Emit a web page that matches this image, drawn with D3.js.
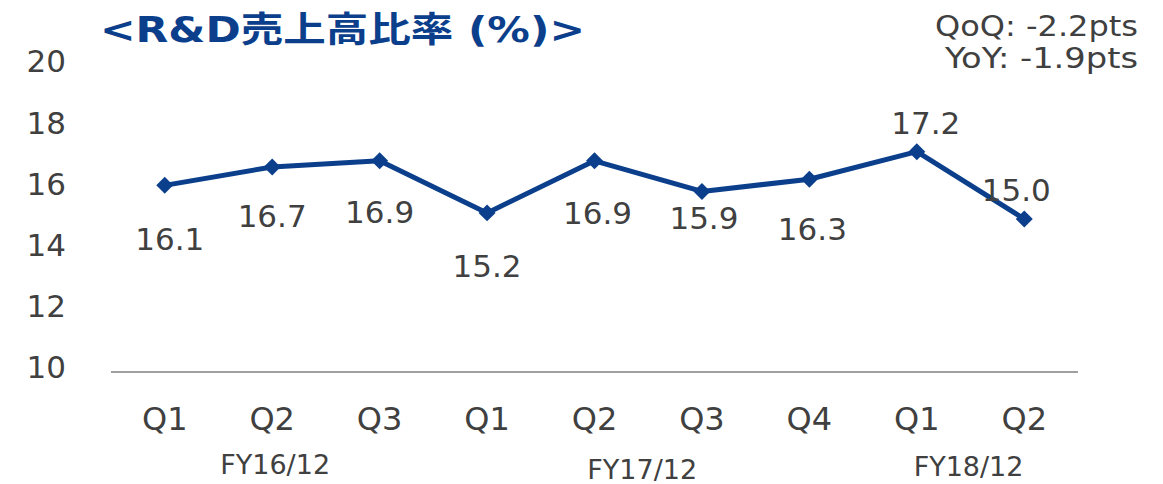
<!DOCTYPE html>
<html lang="ja">
<head>
    <meta charset="UTF-8">
    <title>R&D売上高比率</title>
    <script src="https://cdn.jsdelivr.net/npm/d3@7"></script>
    <style>
        body{
            margin: 0;
            background: #fff;
        }
        svg{
            display: block;
            font-family: "DejaVu Sans", "Noto Sans CJK JP", sans-serif;
        }
        .title{
            fill: #0b3f8c;
            font-weight: bold;
            font-size: 35px;
        }
        .note, .tick text, .qlabel, .vlabel{
            fill: #404040;
        }
        .rdline{
            stroke: #0b3f8c;
            stroke-width: 5px;
            fill: none;
        }
        .marker{
            fill: #0b3f8c;
        }
    </style>
</head>
<body>
    <script>
        // chart data
        const quarters = ["Q1", "Q2", "Q3", "Q1", "Q2", "Q3", "Q4", "Q1", "Q2"];
        const ratio = [16.1, 16.7, 16.9, 15.2, 16.9, 15.9, 16.3, 17.2, 15.0];
        const fiscalYears = ["FY16/12", "FY17/12", "FY18/12"];
        const fyStart = [0, 3, 7];   // first / last quarter index of each fiscal year
        const fyEnd = [2, 6, 8];
        const yTicks = [10, 12, 14, 16, 18, 20];
        const notes = ["QoQ: -2.2pts", "YoY: -1.9pts"];

        // label placement (px from the point), not data
        const labelDx = [5, 0, 0, 0, 3, 2, 3, 9, -8];
        const labelDy = [53, 49, 51, 53, 52, 26, 50, -29, -29];

        const width = 1163, height = 484;
        const margins = {top: 66, bottom: 112, left: 111, right: 85};

        const svg = d3.select("body").append("svg")
            .attr("width", width)
            .attr("height", height);

        const xScale = d3.scaleBand()
            .domain(d3.range(quarters.length))
            .range([margins.left, width - margins.right]);

        const yScale = d3.scaleLinear()
            .domain([10, 20])
            .range([height - margins.bottom, margins.top]);

        const cx = i => xScale(i) + xScale.bandwidth() / 2;

        // title + notes
        svg.append("text")
            .attr("class", "title")
            .attr("x", 100)
            .attr("y", 42)
            .attr("textLength", 485)
            .attr("lengthAdjust", "spacingAndGlyphs")
            .text("<R&D売上高比率 (%)>");

        svg.selectAll(".note")
            .data(notes)
            .enter()
            .append("text")
            .attr("class", "note")
            .attr("x", 1138)
            .attr("y", (d, i) => 36 + i * 32)
            .attr("text-anchor", "end")
            .attr("textLength", (d, i) => [203, 193][i])
            .attr("lengthAdjust", "spacingAndGlyphs")
            .style("font-size", "29px")
            .text(d => d);

        // y axis (labels only)
        const yAxis = d3.axisLeft(yScale)
            .tickValues(yTicks)
            .tickSize(0)
            .tickPadding(0);
        const gy = svg.append("g")
            .attr("transform", "translate(66,0)")
            .call(yAxis);
        gy.select(".domain").remove();
        gy.selectAll("text")
            .style("font-size", "31px")
            .style("font-family", "DejaVu Sans")
            .attr("dy", "0.32em")
            .attr("y", -4);

        // baseline
        svg.append("line")
            .attr("x1", margins.left)
            .attr("x2", width - margins.right)
            .attr("y1", yScale(10))
            .attr("y2", yScale(10))
            .attr("stroke", "#a0a0a0")
            .attr("stroke-width", 2);

        // quarter labels
        svg.selectAll(".qlabel")
            .data(quarters)
            .enter()
            .append("text")
            .attr("class", "qlabel")
            .attr("x", (d, i) => cx(i))
            .attr("y", 430)
            .attr("text-anchor", "middle")
            .style("font-size", "32px")
            .text(d => d);

        // fiscal year labels
        svg.selectAll(".fylabel")
            .data(fiscalYears)
            .enter()
            .append("text")
            .attr("class", "fylabel")
            .attr("x", (d, i) => (cx(fyStart[i]) + cx(fyEnd[i])) / 2 + [3, -6, -2][i])
            .attr("y", (d, i) => [474, 479, 476][i])
            .attr("text-anchor", "middle")
            .attr("fill", "#404040")
            .style("font-size", "27px")
            .text(d => d);

        // line
        const line = d3.line()
            .x((d, i) => cx(i))
            .y(d => yScale(d));

        svg.append("path")
            .datum(ratio)
            .attr("class", "rdline")
            .attr("stroke-linejoin", "round")
            .attr("d", line);

        // diamond markers
        svg.selectAll(".marker")
            .data(ratio)
            .enter()
            .append("rect")
            .attr("class", "marker")
            .attr("width", 12)
            .attr("height", 12)
            .attr("x", -6)
            .attr("y", -6)
            .attr("transform", (d, i) => `translate(${cx(i)},${yScale(d)}) rotate(45)`);

        // value labels
        svg.selectAll(".vlabel")
            .data(ratio)
            .enter()
            .append("text")
            .attr("class", "vlabel")
            .attr("x", (d, i) => cx(i) + labelDx[i])
            .attr("y", (d, i) => yScale(d) + labelDy[i])
            .attr("dy", "0.36em")
            .attr("text-anchor", "middle")
            .style("font-size", "31px")
            .text(d => d.toFixed(1));
    </script>
</body>
</html>
